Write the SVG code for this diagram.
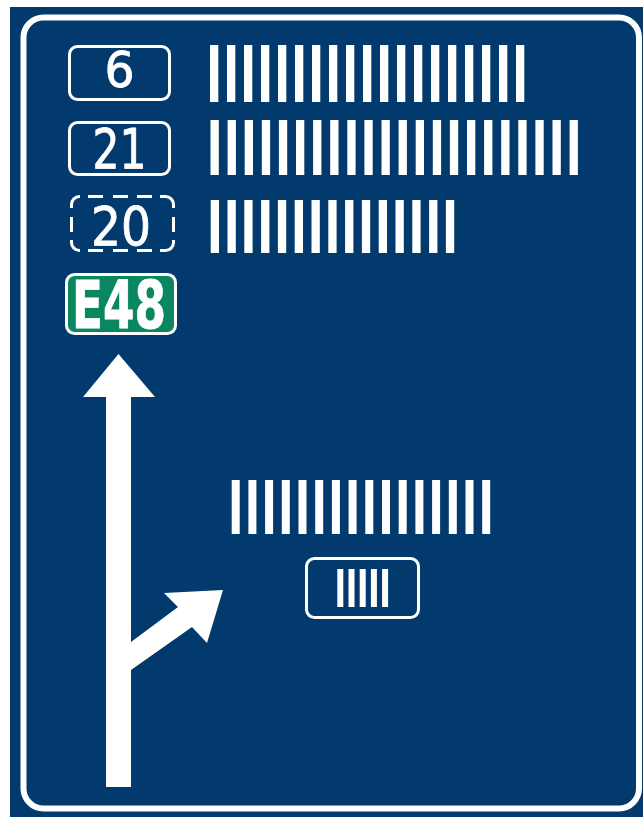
<svg xmlns="http://www.w3.org/2000/svg" width="643" height="817" viewBox="0 0 643 817">
<style>
.bar{fill:#ffffff}
.box{fill:none;stroke:#ffffff;stroke-width:3}
.num{font-family:"Liberation Sans Narrow","DejaVu Sans Condensed","Liberation Sans",Arial,sans-serif;fill:#ffffff;text-anchor:middle;stroke:#ffffff;stroke-width:0.8}
.ar{fill:#ffffff}
</style>
<rect x="0" y="0" width="643" height="817" fill="#ffffff"/>
<rect x="10" y="7" width="633" height="810" fill="#023a6d"/>
<rect x="23.5" y="17.5" width="615.5" height="791" rx="20" ry="20" fill="none" stroke="#ffffff" stroke-width="6"/>

<g id="route6">
<rect class="box" x="69.5" y="46.5" width="100" height="53" rx="8"/>
<text class="num" x="119.5" y="87" font-size="50" textLength="30" lengthAdjust="spacingAndGlyphs">6</text>
</g>
<g id="route21">
<rect class="box" x="69.5" y="122.5" width="100" height="52" rx="8"/>
<text class="num" x="119.5" y="168" font-size="55" textLength="54" lengthAdjust="spacingAndGlyphs">21</text>
</g>
<g id="route20">
<path class="box" d="M71.5 208 V204.5 A8 8 0 0 1 79.5 196.5 H80 M160 196.5 H165.5 A8 8 0 0 1 173.5 204.5 V208 M71.5 240 V242.5 A8 8 0 0 0 79.5 250.5 H80 M160 250.5 H165.5 A8 8 0 0 0 173.5 242.5 V240 M88 196.5 H103 M113 196.5 H128 M137 196.5 H152 M88 250.5 H103 M113 250.5 H128 M137 250.5 H152 M71.5 217 V232 M173.5 217 V232"/>
<text class="num" x="121" y="245" font-size="53" textLength="60" lengthAdjust="spacingAndGlyphs">20</text>
</g>
<g id="routeE48">
<rect x="66.5" y="274.5" width="109" height="59" rx="8" fill="#0a8660" stroke="#ffffff" stroke-width="3"/>
<text class="num" x="119" y="328" font-size="66" font-weight="bold" stroke-width="0" textLength="94" lengthAdjust="spacingAndGlyphs">E48</text>
</g>

<g id="dest1">
<rect class="bar" x="210" y="45" width="8.3" height="57"/><rect class="bar" x="227" y="45" width="8.3" height="57"/><rect class="bar" x="244" y="45" width="8.3" height="57"/><rect class="bar" x="261" y="45" width="8.3" height="57"/><rect class="bar" x="278" y="45" width="8.3" height="57"/><rect class="bar" x="295" y="45" width="8.3" height="57"/><rect class="bar" x="312" y="45" width="8.3" height="57"/><rect class="bar" x="329" y="45" width="8.3" height="57"/><rect class="bar" x="346" y="45" width="8.3" height="57"/><rect class="bar" x="363" y="45" width="8.3" height="57"/><rect class="bar" x="380" y="45" width="8.3" height="57"/><rect class="bar" x="397" y="45" width="8.3" height="57"/><rect class="bar" x="414" y="45" width="8.3" height="57"/><rect class="bar" x="431" y="45" width="8.3" height="57"/><rect class="bar" x="448" y="45" width="8.3" height="57"/><rect class="bar" x="465" y="45" width="8.3" height="57"/><rect class="bar" x="482" y="45" width="8.3" height="57"/><rect class="bar" x="499" y="45" width="8.3" height="57"/><rect class="bar" x="516" y="45" width="8.3" height="57"/>
</g>
<g id="dest2">
<rect class="bar" x="210.5" y="120" width="8.3" height="55"/><rect class="bar" x="227.6" y="120" width="8.3" height="55"/><rect class="bar" x="244.7" y="120" width="8.3" height="55"/><rect class="bar" x="261.8" y="120" width="8.3" height="55"/><rect class="bar" x="278.9" y="120" width="8.3" height="55"/><rect class="bar" x="296" y="120" width="8.3" height="55"/><rect class="bar" x="313.1" y="120" width="8.3" height="55"/><rect class="bar" x="330.2" y="120" width="8.3" height="55"/><rect class="bar" x="347.3" y="120" width="8.3" height="55"/><rect class="bar" x="364.4" y="120" width="8.3" height="55"/><rect class="bar" x="381.5" y="120" width="8.3" height="55"/><rect class="bar" x="398.6" y="120" width="8.3" height="55"/><rect class="bar" x="415.7" y="120" width="8.3" height="55"/><rect class="bar" x="432.8" y="120" width="8.3" height="55"/><rect class="bar" x="449.9" y="120" width="8.3" height="55"/><rect class="bar" x="467" y="120" width="8.3" height="55"/><rect class="bar" x="484.1" y="120" width="8.3" height="55"/><rect class="bar" x="501.2" y="120" width="8.3" height="55"/><rect class="bar" x="518.3" y="120" width="8.3" height="55"/><rect class="bar" x="535.4" y="120" width="8.3" height="55"/><rect class="bar" x="552.5" y="120" width="8.3" height="55"/><rect class="bar" x="569.6" y="120" width="8.3" height="55"/>
</g>
<g id="dest3">
<rect class="bar" x="210.7" y="200" width="8.3" height="53"/><rect class="bar" x="227.5" y="200" width="8.3" height="53"/><rect class="bar" x="244.3" y="200" width="8.3" height="53"/><rect class="bar" x="261.1" y="200" width="8.3" height="53"/><rect class="bar" x="277.9" y="200" width="8.3" height="53"/><rect class="bar" x="294.7" y="200" width="8.3" height="53"/><rect class="bar" x="311.5" y="200" width="8.3" height="53"/><rect class="bar" x="328.3" y="200" width="8.3" height="53"/><rect class="bar" x="345.1" y="200" width="8.3" height="53"/><rect class="bar" x="361.9" y="200" width="8.3" height="53"/><rect class="bar" x="378.7" y="200" width="8.3" height="53"/><rect class="bar" x="395.5" y="200" width="8.3" height="53"/><rect class="bar" x="412.3" y="200" width="8.3" height="53"/><rect class="bar" x="429.1" y="200" width="8.3" height="53"/><rect class="bar" x="445.9" y="200" width="8.3" height="53"/>
</g>
<g id="dest4">
<rect class="bar" x="231.7" y="480" width="8" height="54"/><rect class="bar" x="248.4" y="480" width="8" height="54"/><rect class="bar" x="265.1" y="480" width="8" height="54"/><rect class="bar" x="281.8" y="480" width="8" height="54"/><rect class="bar" x="298.5" y="480" width="8" height="54"/><rect class="bar" x="315.2" y="480" width="8" height="54"/><rect class="bar" x="331.9" y="480" width="8" height="54"/><rect class="bar" x="348.6" y="480" width="8" height="54"/><rect class="bar" x="365.3" y="480" width="8" height="54"/><rect class="bar" x="382" y="480" width="8" height="54"/><rect class="bar" x="398.7" y="480" width="8" height="54"/><rect class="bar" x="415.4" y="480" width="8" height="54"/><rect class="bar" x="432.1" y="480" width="8" height="54"/><rect class="bar" x="448.8" y="480" width="8" height="54"/><rect class="bar" x="465.5" y="480" width="8" height="54"/><rect class="bar" x="482.2" y="480" width="8" height="54"/>
</g>
<g id="exitbox">
<rect class="box" x="306.5" y="558.5" width="112" height="59" rx="8"/>
<rect class="bar" x="337.3" y="569" width="6" height="38"/><rect class="bar" x="348.5" y="569" width="6" height="38"/><rect class="bar" x="359.7" y="569" width="6" height="38"/><rect class="bar" x="370.9" y="569" width="6" height="38"/><rect class="bar" x="382.1" y="569" width="6" height="38"/>
</g>

<g id="arrows">
<path class="ar" d="M106 787 V397 H83 L118.5 354 L155 397 H131 V642 L178 607 L164 593 L223 590 L207 643 L192 627 L131 670 V787 Z"/>
</g>
</svg>
